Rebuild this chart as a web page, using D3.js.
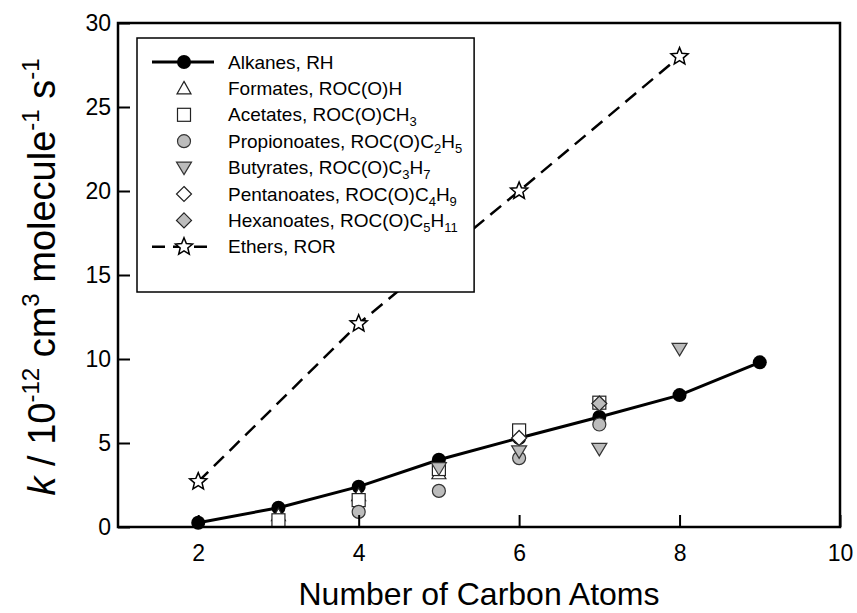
<!DOCTYPE html>
<html><head><meta charset="utf-8">
<script src="https://cdn.jsdelivr.net/npm/d3@7"></script>
<style>body{margin:0;background:#fff}svg{display:block;font-family:"Liberation Sans",Arial,sans-serif}</style>
</head><body><svg id="c" width="857" height="613"></svg>
<script>
// ---- data ----
const alkaneX = [2,3,4,5,6,7,8,9];
const alkaneY = [0.25,1.15,2.4,4.0,5.3,6.55,7.85,9.8];
const formateX = [3,4,5];
const formateY = [0.7,1.9,3.2];
const acetateX = [3,4,5,6,7];
const acetateY = [0.4,1.6,3.45,5.75,7.4];
const propionateX = [4,5,6,7];
const propionateY = [0.9,2.15,4.1,6.1];
const butyrateX = [5,6,7,8];
const butyrateY = [3.5,4.5,4.65,10.6];
const pentanoateX = [6];
const pentanoateY = [5.3];
const hexanoateX = [7];
const hexanoateY = [7.35];
const etherX = [2,4,6,8];
const etherY = [2.7,12.1,20.0,28.0];
const xTicks = [2,4,6,8,10];
const yTicks = [0,5,10,15,20,25,30];
const legendLabels = [
  ["Alkanes, RH"],
  ["Formates, ROC(O)H"],
  ["Acetates, ROC(O)CH", ["3"]],
  ["Propionoates, ROC(O)C", ["2"], "H", ["5"]],
  ["Butyrates, ROC(O)C", ["3"], "H", ["7"]],
  ["Pentanoates, ROC(O)C", ["4"], "H", ["9"]],
  ["Hexanoates, ROC(O)C", ["5"], "H", ["11"]],
  ["Ethers, ROR"]
];

// ---- layout ----
const L = 118, R = 840, T = 23, B = 527;
const svg = d3.select("#c");
const x = d3.scaleLinear().domain([1,10]).range([L,R]);
const y = d3.scaleLinear().domain([0,30]).range([B,T]);
const GRAY = "#bcbcbc";

const zip = (xs, ys) => xs.map((v,i)=>[v, ys[i]]);

function marker(g, type, cx, cy) {
  if (type === "bcircle") {
    g.append("circle").attr("cx",cx).attr("cy",cy).attr("r",7).attr("fill","#000");
  } else if (type === "gcircle") {
    g.append("circle").attr("cx",cx).attr("cy",cy).attr("r",6.5).attr("fill",GRAY).attr("stroke","#333").attr("stroke-width",1.2);
  } else if (type === "utri") {
    g.append("path").attr("d",`M${cx},${cy-7}L${cx+7},${cy+5.5}L${cx-7},${cy+5.5}Z`).attr("fill","#fff").attr("stroke","#222").attr("stroke-width",1.2);
  } else if (type === "dtri") {
    g.append("path").attr("d",`M${cx},${cy+7}L${cx+7.5},${cy-5.5}L${cx-7.5},${cy-5.5}Z`).attr("fill",GRAY).attr("stroke","#333").attr("stroke-width",1.2);
  } else if (type === "square") {
    g.append("rect").attr("x",cx-6.5).attr("y",cy-6.5).attr("width",13).attr("height",13).attr("fill","#fff").attr("stroke","#222").attr("stroke-width",1.2);
  } else if (type === "wdiamond" || type === "gdiamond") {
    g.append("path").attr("d",`M${cx},${cy-7.5}L${cx+7.5},${cy}L${cx},${cy+7.5}L${cx-7.5},${cy}Z`)
      .attr("fill", type==="wdiamond" ? "#fff" : GRAY).attr("stroke","#222").attr("stroke-width",1.2);
  } else if (type === "star") {
    const pts = [];
    for (let i=0;i<10;i++){
      const r = i%2===0 ? 9 : 4;
      const a = -Math.PI/2 + i*Math.PI/5;
      pts.push([cx + r*Math.cos(a), cy + r*Math.sin(a)]);
    }
    g.append("path").attr("d","M"+pts.map(p=>p.join(",")).join("L")+"Z").attr("fill","#fff").attr("stroke","#000").attr("stroke-width",1.5);
  }
}

// ---- series ----
const line = d3.line().x(d=>x(d[0])).y(d=>y(d[1]));
const plot = svg.append("g");
plot.append("path").datum(zip(etherX,etherY)).attr("d",line).attr("fill","none")
  .attr("stroke","#000").attr("stroke-width",2.5).attr("stroke-dasharray","14,8");
plot.append("path").datum(zip(alkaneX,alkaneY)).attr("d",line).attr("fill","none")
  .attr("stroke","#000").attr("stroke-width",3);

const series = [
  [alkaneX, alkaneY, "bcircle"],
  [formateX, formateY, "utri"],
  [acetateX, acetateY, "square"],
  [propionateX, propionateY, "gcircle"],
  [butyrateX, butyrateY, "dtri"],
  [pentanoateX, pentanoateY, "wdiamond"],
  [hexanoateX, hexanoateY, "gdiamond"],
  [etherX, etherY, "star"]
];
series.forEach(([xs, ys, t]) => zip(xs,ys).forEach(d => marker(plot, t, x(d[0]), y(d[1]))));

// ---- legend ----
const lg = svg.append("g");
const lgTop = 38, lgLeft = 137, lgBottom = 292, lgRowY0 = 62, lgRowDy = 26.4, lgSymX = 184, lgTextX = 228;
const LF = 19, SF = 13, SUBDY = 5;
const box = lg.append("rect").attr("x",lgLeft).attr("y",lgTop).attr("height",lgBottom-lgTop)
  .attr("fill","#fff").attr("stroke","#000").attr("stroke-width",1.5);
let maxW = 0;
legendLabels.forEach((parts, i) => {
  const cy = lgRowY0 + i*lgRowDy;
  const t = lg.append("text").attr("x",lgTextX).attr("y",cy+LF*0.35)
    .attr("font-size",LF).attr("fill","#000");
  let shifted = false;
  parts.forEach(p => {
    if (Array.isArray(p)) {
      t.append("tspan").attr("dy", shifted ? 0 : SUBDY).attr("font-size",SF).text(p[0]);
      shifted = true;
    } else {
      t.append("tspan").attr("dy", shifted ? -SUBDY : 0).attr("font-size",LF).text(p);
      shifted = false;
    }
  });
  maxW = Math.max(maxW, t.node().getComputedTextLength());
  if (i === 0) {
    lg.append("line").attr("x1",152).attr("x2",214).attr("y1",cy).attr("y2",cy).attr("stroke","#000").attr("stroke-width",3);
  }
  if (i === 7) {
    lg.append("line").attr("x1",152).attr("x2",214).attr("y1",cy).attr("y2",cy).attr("stroke","#000").attr("stroke-width",2.5).attr("stroke-dasharray","13,8");
  }
  marker(lg, series[i][2], lgSymX, cy);
});
box.attr("width", lgTextX + maxW + 12 - lgLeft);

// ---- axes / frame ----
const ax = svg.append("g");
ax.append("rect").attr("x",L).attr("y",T).attr("width",R-L).attr("height",B-T)
  .attr("fill","none").attr("stroke","#000").attr("stroke-width",2.5);
const xAxis = d3.axisBottom(x).tickValues(xTicks).tickSize(-12).tickPadding(18).tickFormat(d3.format("d"));
const gx = ax.append("g").attr("transform",`translate(0,${B})`).call(xAxis);
const yAxis = d3.axisLeft(y).tickValues(yTicks).tickSize(-12).tickPadding(7).tickFormat(d3.format("d"));
const gy = ax.append("g").attr("transform",`translate(${L},0)`).call(yAxis);
[gx, gy].forEach(g => {
  g.select(".domain").remove();
  g.selectAll(".tick line").attr("stroke","#000").attr("stroke-width",2);
  g.selectAll(".tick text").attr("font-size",23).attr("fill","#000").attr("font-family","Liberation Sans, Arial, sans-serif");
});

// ---- titles ----
svg.append("text").attr("x",(L+R)/2).attr("y",605).attr("text-anchor","middle")
  .attr("font-size",32).attr("fill","#000").text("Number of Carbon Atoms");

const YF = 38, YS = 24, YD = 16;
const yt = svg.append("text").attr("transform",`translate(55,${(T+B)/2 + 2}) rotate(-90)`)
  .attr("text-anchor","middle").attr("font-size",YF).attr("fill","#000");
yt.append("tspan").attr("font-size",YF).attr("font-style","italic").text("k");
yt.append("tspan").attr("font-size",YF).text(" / 10");
yt.append("tspan").attr("dy",-YD).attr("font-size",YS).text("-12");
yt.append("tspan").attr("dy",YD).attr("font-size",YF).text(" cm");
yt.append("tspan").attr("dy",-YD).attr("font-size",YS).text("3");
yt.append("tspan").attr("dy",YD).attr("font-size",YF).text(" molecule");
yt.append("tspan").attr("dy",-YD).attr("font-size",YS).text("-1");
yt.append("tspan").attr("dy",YD).attr("font-size",YF).text(" s");
yt.append("tspan").attr("dy",-YD).attr("font-size",YS).text("-1");
</script></body></html>
